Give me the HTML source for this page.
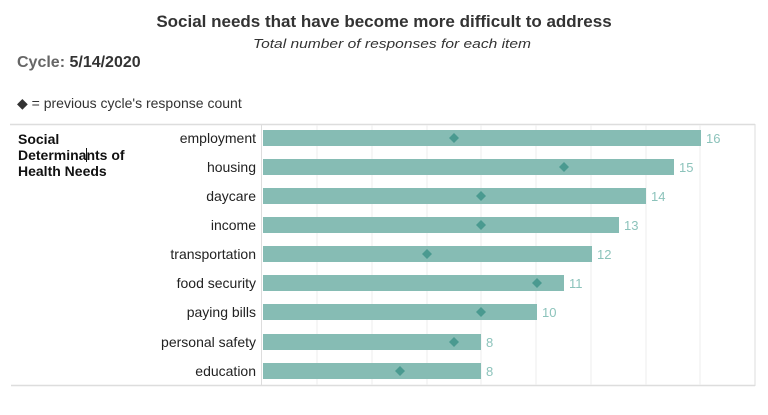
<!DOCTYPE html>
<html><head><meta charset="utf-8"><style>
html,body{margin:0;padding:0;background:#fff;}
svg{display:block;font-family:"Liberation Sans",Arial,sans-serif;}
</style></head><body>
<svg width="768" height="415" viewBox="0 0 768 415" xmlns="http://www.w3.org/2000/svg">
<text x="384" y="27" text-anchor="middle" font-size="17" font-weight="bold" fill="#333">Social needs that have become more difficult to address</text>
<text x="253" y="48" font-size="13" font-style="italic" fill="#333" textLength="278" lengthAdjust="spacingAndGlyphs">Total number of responses for each item</text>
<text x="17" y="67" font-size="16" font-weight="bold" fill="#666">Cycle: <tspan fill="#333">5/14/2020</tspan></text>
<text x="17" y="108" font-size="14" fill="#333">◆ = previous cycle's response count</text>
<!-- frame -->
<line x1="10" y1="124.5" x2="755" y2="124.5" stroke="#ddd" stroke-width="1.5"/>
<line x1="11" y1="385.5" x2="755" y2="385.5" stroke="#ddd" stroke-width="1.5"/>
<line x1="755" y1="124" x2="755" y2="386" stroke="#ddd" stroke-width="1"/>
<line x1="261.5" y1="125" x2="261.5" y2="385" stroke="#ddd" stroke-width="1"/>
<g stroke="#eee" stroke-width="1">
<line x1="317" y1="125" x2="317" y2="385"/><line x1="372" y1="125" x2="372" y2="385"/>
<line x1="427" y1="125" x2="427" y2="385"/><line x1="481" y1="125" x2="481" y2="385"/>
<line x1="536" y1="125" x2="536" y2="385"/><line x1="591" y1="125" x2="591" y2="385"/>
<line x1="646" y1="125" x2="646" y2="385"/><line x1="700" y1="125" x2="700" y2="385"/>
</g>
<text font-size="14" font-weight="bold" fill="#111"><tspan x="18" y="144">Social</tspan><tspan x="18" y="160">Determinants of</tspan><tspan x="18" y="176">Health Needs</tspan></text>
<line x1="86.5" y1="148" x2="86.5" y2="162" stroke="#111" stroke-width="1"/>
<g font-size="14" fill="#222" text-anchor="end">
<text x="256" y="143">employment</text>
<text x="256" y="172">housing</text>
<text x="256" y="201">daycare</text>
<text x="256" y="230">income</text>
<text x="256" y="259">transportation</text>
<text x="256" y="288">food security</text>
<text x="256" y="317">paying bills</text>
<text x="256" y="347">personal safety</text>
<text x="256" y="376">education</text>
</g>
<g fill="#86bcb4">
<rect x="263" y="130" width="438" height="16"/>
<rect x="263" y="159" width="411" height="16"/>
<rect x="263" y="188" width="383" height="16"/>
<rect x="263" y="217" width="356" height="16"/>
<rect x="263" y="246" width="329" height="16"/>
<rect x="263" y="275" width="301" height="16"/>
<rect x="263" y="304" width="274" height="16"/>
<rect x="263" y="334" width="218" height="16"/>
<rect x="263" y="363" width="218" height="16"/>
</g>
<g fill="#4a9a90">
<path d="M454 133l5 5-5 5-5-5z"/>
<path d="M564 162l5 5-5 5-5-5z"/>
<path d="M481 191l5 5-5 5-5-5z"/>
<path d="M481 220l5 5-5 5-5-5z"/>
<path d="M427 249l5 5-5 5-5-5z"/>
<path d="M537 278l5 5-5 5-5-5z"/>
<path d="M481 307l5 5-5 5-5-5z"/>
<path d="M454 337l5 5-5 5-5-5z"/>
<path d="M400 366l5 5-5 5-5-5z"/>
</g>
<g font-size="13" fill="#8cc3bb">
<text x="706" y="143">16</text>
<text x="679" y="172">15</text>
<text x="651" y="201">14</text>
<text x="624" y="230">13</text>
<text x="597" y="259">12</text>
<text x="569" y="288">11</text>
<text x="542" y="317">10</text>
<text x="486" y="347">8</text>
<text x="486" y="376">8</text>
</g>
</svg>
</body></html>
